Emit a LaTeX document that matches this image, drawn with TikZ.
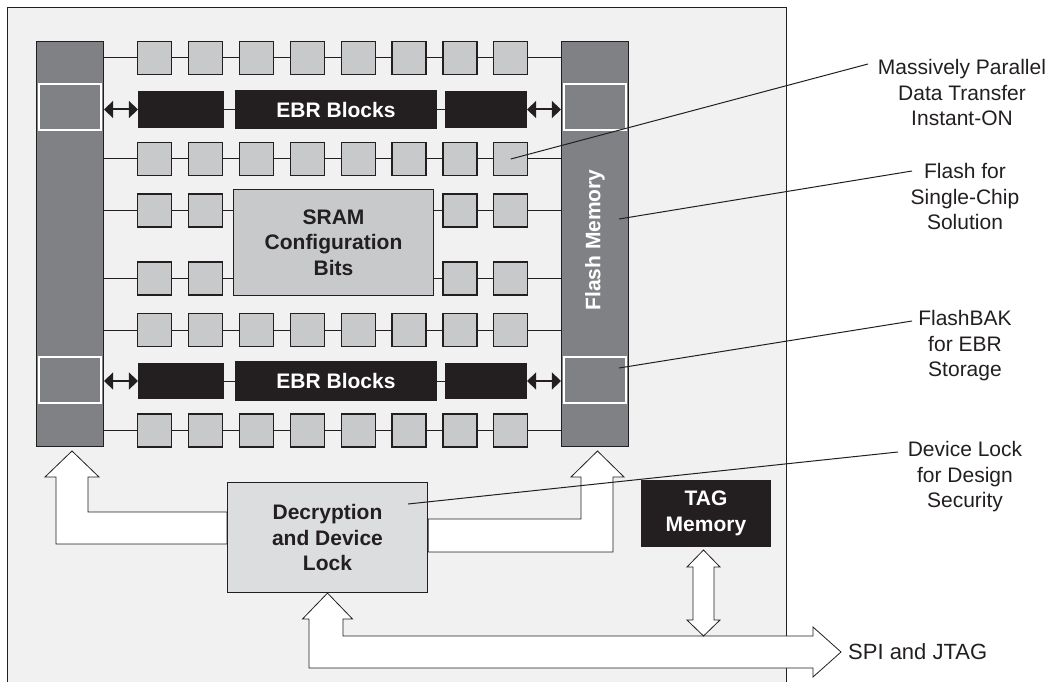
\documentclass[tikz,border=0pt]{standalone}
\usepackage{fontspec}
\setmainfont{Liberation Sans}
\usetikzlibrary{arrows.meta}
\definecolor{panelgray}{HTML}{F1F1F1}
\definecolor{colgray}{HTML}{808184}
\definecolor{cellgray}{HTML}{C8C9CB}
\definecolor{lockgray}{HTML}{DCDDDE}
\definecolor{inkblack}{HTML}{231F20}
\newcommand{\notefont}{\fontsize{21}{25.5}\selectfont}
\newcommand{\boxfont}{\fontsize{21}{25.5}\selectfont\bfseries}

\begin{document}
\begin{tikzpicture}[x=1pt,y=-1pt,
    cell/.style={draw=inkblack,line width=1.2pt,fill=cellgray,minimum width=34pt,minimum height=33pt,inner sep=0pt},
    column/.style={draw=inkblack,line width=1.2pt,fill=colgray,minimum width=67pt,minimum height=405pt,inner sep=0pt},
    flashcell/.style={draw=white,line width=2pt,fill=colgray,minimum width=62pt,minimum height=46pt,inner sep=0pt},
    ebr/.style={draw=inkblack,line width=1.2pt,fill=inkblack,text=white,font=\boxfont,minimum height=35pt,inner sep=0pt},
    block/.style={draw=inkblack,line width=1.2pt,text=inkblack,font=\boxfont,align=center,inner sep=0pt},
    wire/.style={draw=inkblack,line width=1pt},
    duplex/.style={draw=inkblack,line width=2pt,{Triangle[length=9pt,width=17pt]}-{Triangle[length=9pt,width=17pt]}},
    hollow/.style={draw=inkblack,line width=0.8pt,fill=white,line join=miter},
    leader/.style={draw=inkblack,line width=1pt},
    remark/.style={text=inkblack,font=\notefont,align=center}]
  \useasboundingbox (0,0) rectangle (1050,682);
  % chip outline
  \fill[panelgray] (7.5,7.5) rectangle (786.5,682);
  \draw[inkblack,line width=1.2pt] (7.5,682) |- (786.5,7.5) -- (786.5,682);
  % flash columns
  \node[column] (lcol) at (70,244) {};
  \node[column] (rcol) at (595,244) {};
  \node[flashcell] (lfl1) at (70,107.5) {};
  \node[flashcell] (lfl2) at (70,380) {};
  \node[flashcell] (rfl1) at (595,107.5) {};
  \node[flashcell] (rfl2) at (595,380) {};
  \node[rotate=90,text=white,font=\boxfont] (flashtxt) at (595,240) {Flash Memory};
  % logic cells
  \foreach \r/\y in {1/58,2/159,5/330,6/430.5}{
    \foreach \c [evaluate=\c as \x using 103.6+50.9*\c] in {1,...,8}
      \node[cell] (sq\r-\c) at (\x,\y) {};
    \foreach \c [evaluate=\c as \n using int(\c+1)] in {1,...,7}
      \draw[wire] (sq\r-\c.east) -- (sq\r-\n.west);
    \draw[wire] (lcol.east |- sq\r-1) -- (sq\r-1.west);
    \draw[wire] (sq\r-8.east) -- (rcol.west |- sq\r-8);
  }
  \node[block,fill=cellgray,minimum width=200pt,minimum height=106pt] (sram) at (333.5,242.5) {SRAM\\Configuration\\Bits};
  \foreach \r/\y in {3/210.5,4/278.5}{
    \foreach \c [evaluate=\c as \x using 103.6+50.9*\c] in {1,2,7,8}
      \node[cell] (sq\r-\c) at (\x,\y) {};
    \draw[wire] (lcol.east |- sq\r-1) -- (sq\r-1.west);
    \draw[wire] (sq\r-1.east) -- (sq\r-2.west);
    \draw[wire] (sq\r-2.east) -- (sram.west |- sq\r-2);
    \draw[wire] (sram.east |- sq\r-7) -- (sq\r-7.west);
    \draw[wire] (sq\r-7.east) -- (sq\r-8.west);
    \draw[wire] (sq\r-8.east) -- (rcol.west |- sq\r-8);
  }
  % EBR rows
  \foreach \r/\y in {1/109.5,2/381}{
    \node[ebr,minimum width=85pt] (ebrl\r) at (181,\y) {};
    \node[ebr,minimum width=201pt,minimum height=38pt] (ebrm\r) at (336,\y) {EBR Blocks};
    \node[ebr,minimum width=81pt] (ebrr\r) at (486,\y) {};
    \draw[wire] (ebrl\r.east) -- (ebrm\r.west);
    \draw[wire] (ebrm\r.east) -- (ebrr\r.west);
    \draw[duplex] (lcol.east |- ebrl\r) -- (ebrl\r.west);
    \draw[duplex] (ebrr\r.east) -- (rcol.west |- ebrr\r);
  }
  % decryption and TAG
  \node[block,fill=lockgray,minimum width=200pt,minimum height=110pt] (dec) at (327.5,537.5) {Decryption\\and Device\\Lock};
  \node[block,fill=inkblack,text=white,minimum width=129pt,minimum height=66pt] (tag) at (706,513.5) {TAG\\Memory};
  \draw[hollow] (dec.west |- 0,512) -- (88,512) -- (88,477) -- (99,477) -- (72,451)
    -- (45,477) -- (56,477) -- (56,544) -- (dec.west |- 0,544) -- cycle;
  \draw[hollow] (dec.east |- 0,519) -- (581,519) -- (581,477) -- (571,477) -- (597.5,451)
    -- (624,477) -- (613,477) -- (613,552) -- (dec.east |- 0,552) -- cycle;
  \draw[hollow] (dec.south) -- (352.5,619) -- (343,619) -- (343,636) -- (813,636) -- (813,627)
    -- (841,652) -- (813,677) -- (813,668) -- (309,668) -- (309,619) -- (302.5,619) -- cycle;
  \draw[hollow] (703.5,550) -- (720,567) -- (714,567) -- (714,620) -- (720,620) -- (703.5,636)
    -- (687,620) -- (693,620) -- (693,567) -- (687,567) -- cycle;
  \node[anchor=west,inner sep=0pt,text=inkblack,font=\fontsize{22}{26}\selectfont] (spi) at (848,652) {SPI and JTAG};
  % callouts
  \node[remark] (massive) at (962,92.5) {Massively Parallel\\Data Transfer\\Instant-ON};
  \node[remark] (single) at (965,196.5) {Flash for\\Single-Chip\\Solution};
  \node[remark] (bak) at (965,346) {FlashBAK\\for EBR\\Storage};
  \node[remark] (secure) at (965,477) {Device Lock\\for Design\\Security};
  \coordinate (massend) at (868,64);
  \coordinate (singleend) at (912,171);
  \coordinate (bakend) at (912,321);
  \coordinate (secureend) at (898,452);
  \draw[leader] (sq2-8.center) -- (massend);
  \draw[leader] ([shift={(24,-25)}]rcol.center) -- (singleend);
  \draw[leader] ([shift={(24,-12)}]rfl2.center) -- (bakend);
  \draw[leader] ([shift={(80.5,-33.5)}]dec.center) -- (secureend);
\end{tikzpicture}
\end{document}
